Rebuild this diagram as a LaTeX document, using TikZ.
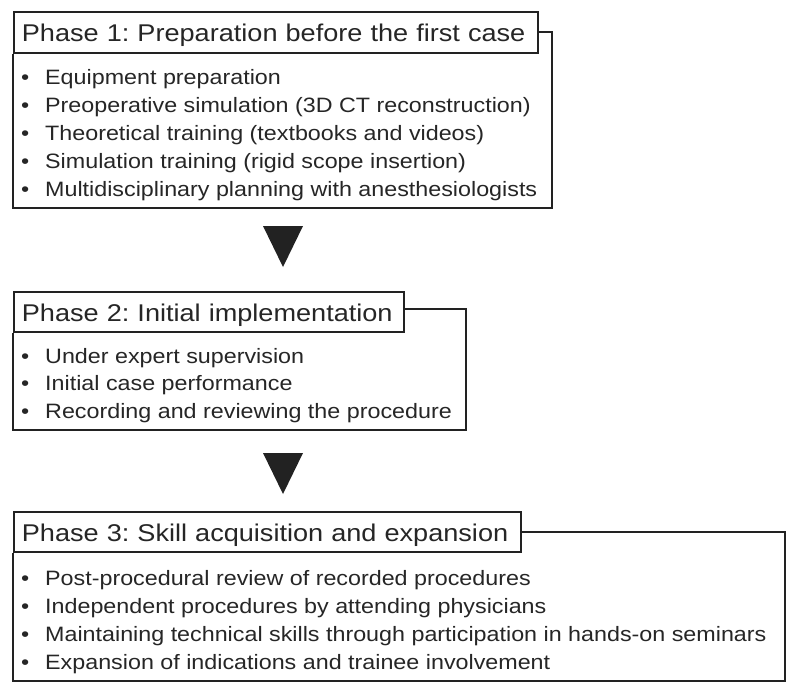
\documentclass[tikz,border=0pt]{standalone}
\usepackage{fontspec}
\setmainfont{Liberation Sans}[FakeStretch=1.12]
\frenchspacing
\definecolor{linec}{HTML}{222222}
\definecolor{textc}{HTML}{262626}
\tikzset{
 titlebox/.style={draw=linec, line width=1.8pt, anchor=north west, inner xsep=8pt, inner ysep=0pt,
   text height=19pt, text depth=0pt, align=left, font=\fontsize{24.2}{29}\selectfont, text=textc},
 itemline/.style={anchor=base west, inner sep=0pt, font=\fontsize{20.8}{25}\selectfont, text=textc},
 frame/.style={draw=linec, line width=1.8pt},
 downtri/.style={fill=linec, draw=none}
}
\begin{document}
\begin{tikzpicture}[x=1pt, y=-1pt]
\fill[white] (0,0) rectangle (802,690);
\useasboundingbox (0,0) rectangle (802,690);

% Phase 1
\node[titlebox, minimum width=524pt, minimum height=41pt, text width=508pt] (t1) at (13,11)
  {\mbox{Phase 1: Preparation before the first case}};
\coordinate (c1) at (552,208);
\coordinate (k1) at (552,32);
\draw[frame] (t1.south west) -- (t1.south west |- c1) -- (c1) -- (k1) -- (k1 -| t1.east);
\foreach \t [count=\i] in {Equipment preparation,
  Preoperative simulation (3D CT reconstruction),
  Theoretical training (textbooks and videos),
  Simulation training (rigid scope insertion),
  Multidisciplinary planning with anesthesiologists}
  \node[itemline] (pa-\i) at (21,{85+(\i-1)*27.75}) {\makebox[24pt][l]{\textbullet}\t};

% Arrow 1
\coordinate (a1l) at (263,226);
\coordinate (a1r) at (303,226);
\coordinate (a1t) at (283,267);
\fill[downtri] (a1l) -- (a1r) -- (a1t) -- cycle;

% Phase 2
\node[titlebox, minimum width=390pt, minimum height=40pt, text width=374pt] (t2) at (13,291)
  {\mbox{Phase 2: Initial implementation}};
\coordinate (c2) at (466,430);
\coordinate (k2) at (466,309);
\draw[frame] (t2.south west) -- (t2.south west |- c2) -- (c2) -- (k2) -- (k2 -| t2.east);
\foreach \t [count=\i] in {Under expert supervision,
  Initial case performance,
  Recording and reviewing the procedure}
  \node[itemline] (pb-\i) at (21,{363+(\i-1)*27.5}) {\makebox[24pt][l]{\textbullet}\t};

% Arrow 2
\coordinate (a2l) at (263,453);
\coordinate (a2r) at (303,453);
\coordinate (a2t) at (283,494);
\fill[downtri] (a2l) -- (a2r) -- (a2t) -- cycle;

% Phase 3
\node[titlebox, minimum width=507pt, minimum height=40pt, text width=491pt] (t3) at (13,511)
  {\mbox{Phase 3: Skill acquisition and expansion}};
\coordinate (c3) at (785,681);
\coordinate (k3) at (785,532);
\draw[frame] (t3.south west) -- (t3.south west |- c3) -- (c3) -- (k3) -- (k3 -| t3.east);
\foreach \t [count=\i] in {Post-procedural review of recorded procedures,
  Independent procedures by attending physicians,
  Maintaining technical skills through participation in hands-on seminars,
  Expansion of indications and trainee involvement}
  \node[itemline] (pc-\i) at (21,{585+(\i-1)*28}) {\makebox[24pt][l]{\textbullet}\t};
\end{tikzpicture}
\end{document}
